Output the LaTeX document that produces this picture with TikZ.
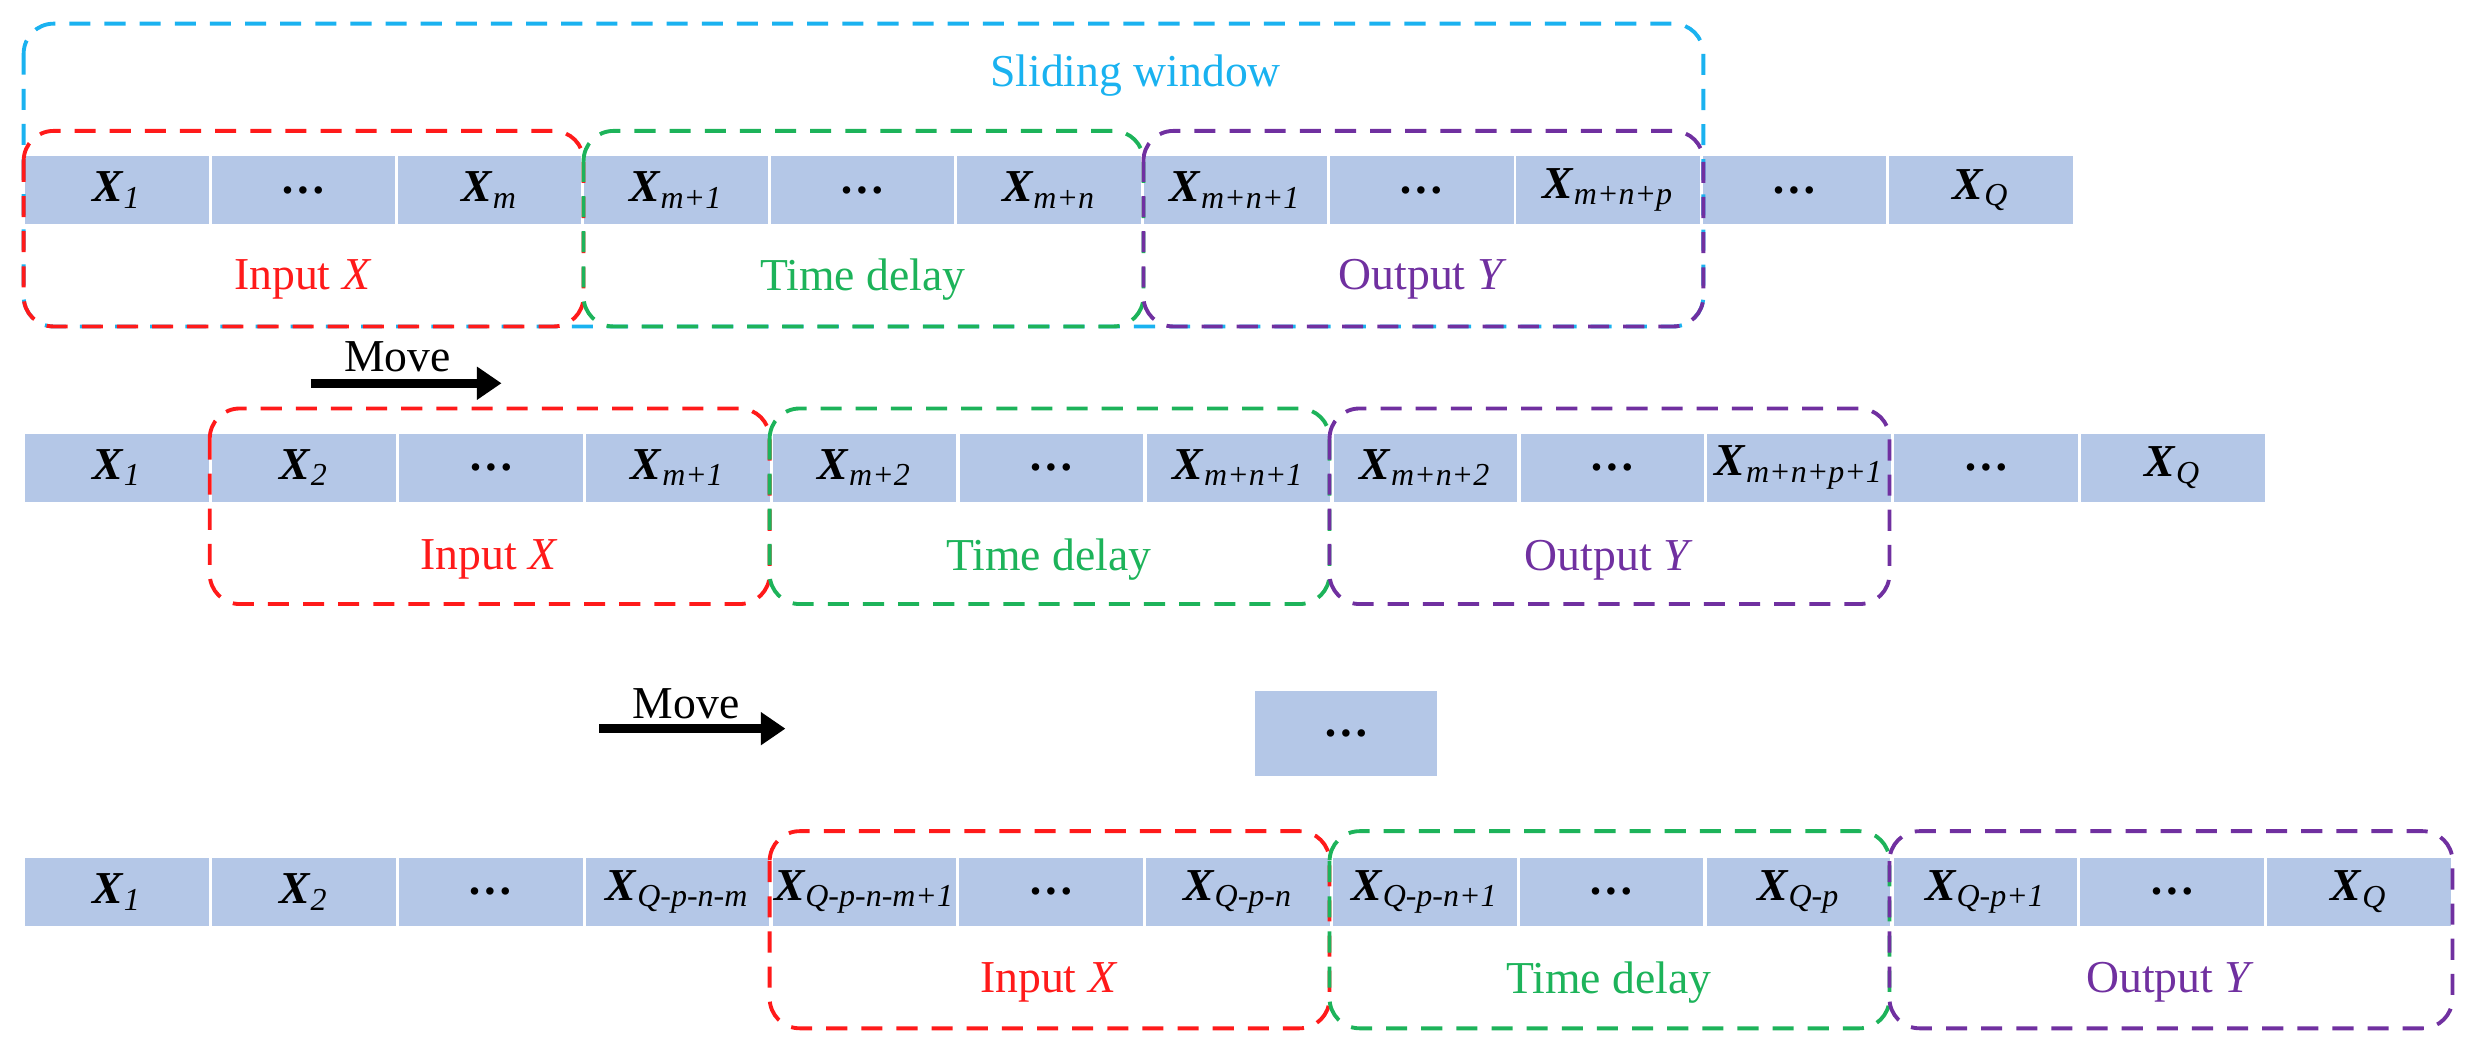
\documentclass[tikz,border=0pt]{standalone}
\usepackage{fontspec}
\setmainfont{Liberation Serif}
\usetikzlibrary{arrows.meta,positioning}
\definecolor{cellblue}{HTML}{B4C7E7}
\definecolor{winred}{HTML}{FF1A1A}
\definecolor{wingreen}{HTML}{1DB35A}
\definecolor{winpurple}{HTML}{7030A0}
\definecolor{wincyan}{HTML}{1AB2F0}
\newcommand{\xs}[1]{\textbf{\textit{X}}\textsubscript{\textit{#1}}}
\newcommand{\dts}{\textbf{\ldots}}
\tikzset{
  cell/.style={fill=cellblue,draw=white,line width=0.8pt,minimum width=1.864cm,minimum height=0.71cm,inner sep=0pt,font=\fontsize{13}{15}\selectfont},
  win/.style={dashed,dash pattern=on 6pt off 4pt,line width=1.1pt,rounded corners=0.3cm},
  lab/.style={font=\fontsize{13}{15}\selectfont},
  move/.style={-{Triangle[length=7pt,width=9pt]},line width=2.6pt}
}
\begin{document}
\begin{tikzpicture}[x=0.01577cm,y=-0.01577cm]
    \useasboundingbox (0,0) rectangle (1568,669);
    %row 1
    \foreach \lab [count=\i from 0] in {\xs{1},\dts,\xs{m},\xs{m+1},\dts,\xs{m+n},\xs{m+n+1},\dts,\xs{m+n+p},\dts,\xs{Q}}
        \node[cell] (a\i) at ({15+118.2*\i+59.1},120.5) {\lab};
    \draw[win,wincyan] (15,15) rectangle (1080,207);
    \node[lab,text=wincyan] (slide) at (720,48) {Sliding window};
    \draw[win,winred] (15,83) rectangle (370,207);
    \draw[win,wingreen] (370,83) rectangle (725,207);
    \draw[win,winpurple] (725,83) rectangle (1080,207);
    \node[lab,text=winred] (inA) at (192,177) {Input \textit{X}};
    \node[lab,text=wingreen] (tdA) at (547,177) {Time delay};
    \node[lab,text=winpurple] (outA) at (902,177) {Output \textit{Y}};
    %move 1
    \coordinate (m1s) at (197,243);
    \coordinate (m1e) at (318,243);
    \draw[move] (m1s) -- (m1e);
    \node[lab] (mv1) at (252,226) {Move};
    %row 2
    \foreach \lab [count=\i from 0] in {\xs{1},\xs{2},\dts,\xs{m+1},\xs{m+2},\dts,\xs{m+n+1},\xs{m+n+2},\dts,\xs{m+n+p+1},\dts,\xs{Q}}
        \node[cell] (b\i) at ({15+118.5*\i+59.25},296.5) {\lab};
    \draw[win,winred] (133,259) rectangle (488,383);
    \draw[win,wingreen] (488,259) rectangle (843,383);
    \draw[win,winpurple] (843,259) rectangle (1198,383);
    \node[lab,text=winred] (inB) at (310,355) {Input \textit{X}};
    \node[lab,text=wingreen] (tdB) at (665,355) {Time delay};
    \node[lab,text=winpurple] (outB) at (1020,355) {Output \textit{Y}};
    %move 2
    \coordinate (m2s) at (380,462);
    \coordinate (m2e) at (498,462);
    \draw[move] (m2s) -- (m2e);
    \node[lab] (mv2) at (435,446) {Move};
    \node[cell,minimum width=1.845cm,minimum height=0.88cm,text depth=-0.25cm] (more) at (853.5,465) {\dts};
    %row 3
    \foreach \lab [count=\i from 0] in {\xs{1},\xs{2},\dts,\xs{Q-p-n-m},\xs{Q-p-n-m+1},\dts,\xs{Q-p-n},\xs{Q-p-n+1},\dts,\xs{Q-p},\xs{Q-p+1},\dts,\xs{Q}}
        \node[cell] (c\i) at ({15+118.46*\i+59.23},565.5) {\lab};
    \draw[win,winred] (488,527) rectangle (843,652);
    \draw[win,wingreen] (843,527) rectangle (1198,652);
    \draw[win,winpurple] (1198,527) rectangle (1555,652);
    \node[lab,text=winred] (inC) at (665,623) {Input \textit{X}};
    \node[lab,text=wingreen] (tdC) at (1020,623) {Time delay};
    \node[lab,text=winpurple] (outC) at (1376,623) {Output \textit{Y}};
\end{tikzpicture}
\end{document}
